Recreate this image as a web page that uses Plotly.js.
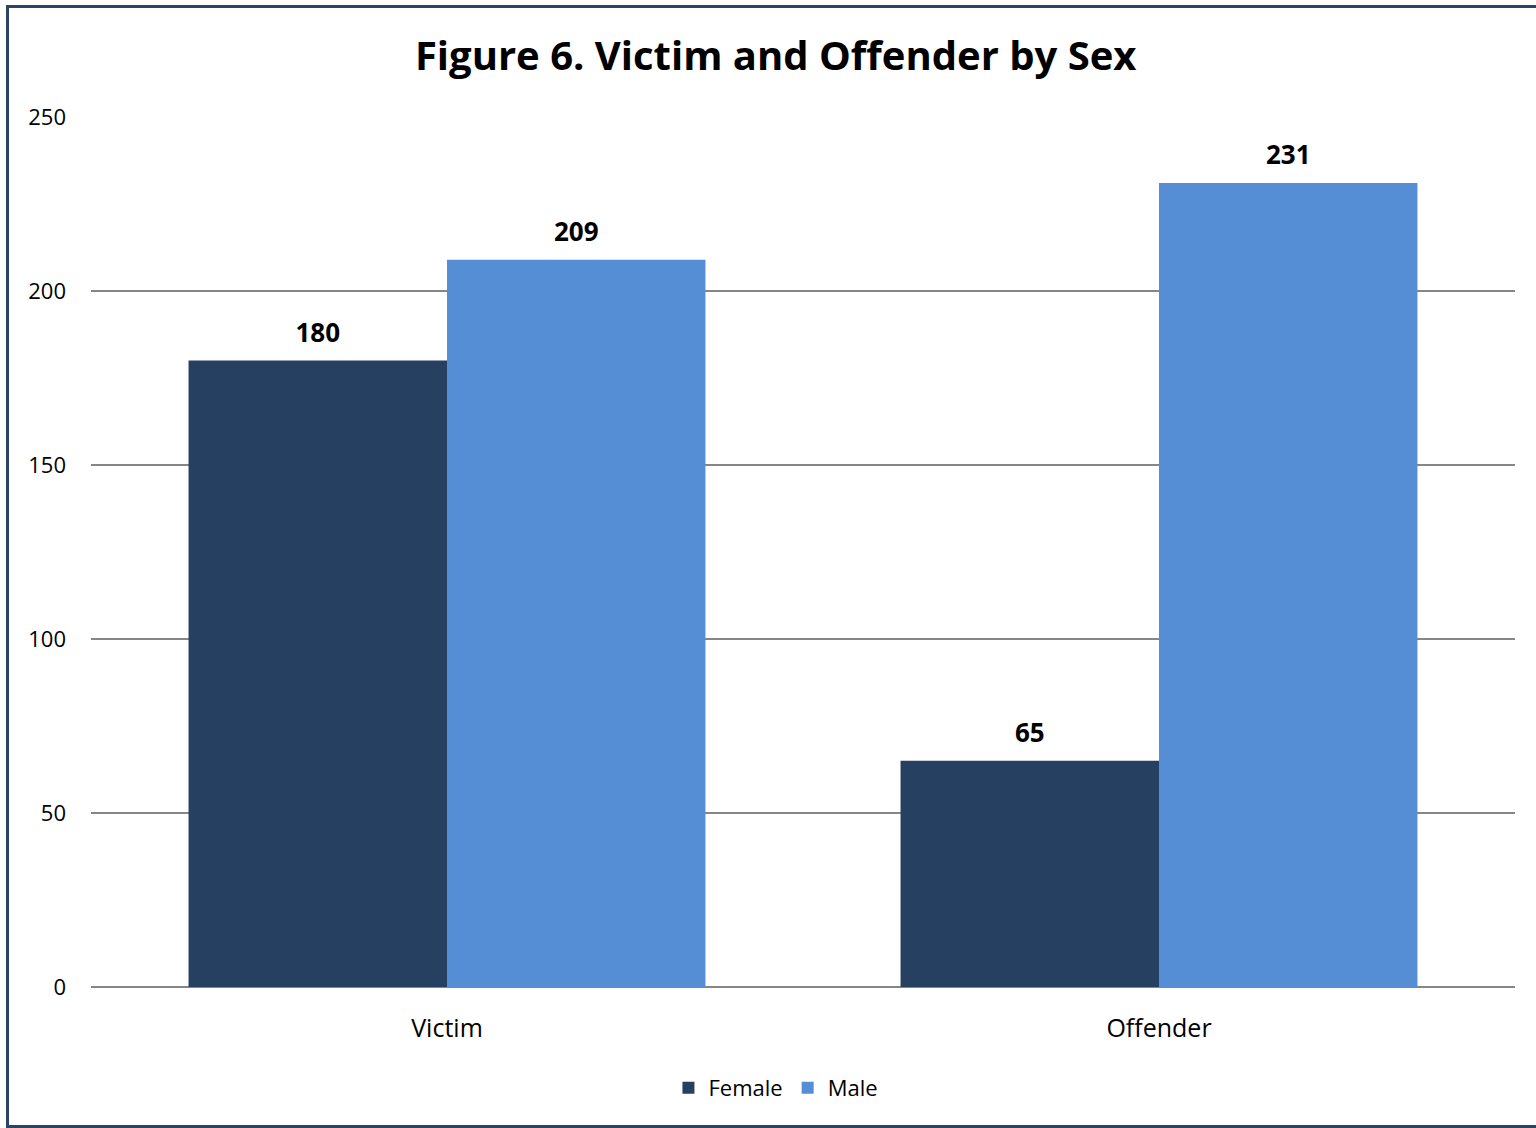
<!DOCTYPE html>
<html>
<head>
<meta charset="utf-8">
<script src="https://cdn.plot.ly/plotly-3.0.1.min.js"></script>
<style>
html,body{margin:0;padding:0;background:#fff;}
#wrap{position:relative;width:1536px;height:1128px;overflow:hidden;}
#chart{position:absolute;left:0;top:0;width:1536px;height:1128px;}
#frame{position:absolute;left:6px;top:5px;width:1600px;height:1117px;border:3px solid #2A4468;border-right:none;pointer-events:none;}
</style>
</head>
<body>
<div id="wrap"><div id="chart"></div><div id="frame"></div></div>
<script>
const categories = ["Victim", "Offender"];
const femaleValues = [180, 65];
const maleValues = [209, 231];
const yTicks = [0, 50, 100, 150, 200, 250];

const FONT = "Open Sans, Liberation Sans, sans-serif";
const labelTpl = '<span style="font-size:26px"><b>%{y}</b></span><br> ';

const traces = [
  {type:'bar', name:'Female', x:categories, y:femaleValues, marker:{color:'#264061'},
   text:femaleValues.map(String), texttemplate:labelTpl, textposition:'outside',
   textfont:{family:FONT, size:10, color:'#000'}, cliponaxis:false},
  {type:'bar', name:'Male', x:categories, y:maleValues, marker:{color:'#558ED5'},
   text:maleValues.map(String), texttemplate:labelTpl, textposition:'outside',
   textfont:{family:FONT, size:10, color:'#000'}, cliponaxis:false}
];

const layout = {
  width:1536, height:1128,
  paper_bgcolor:'rgba(0,0,0,0)', plot_bgcolor:'#fff',
  margin:{l:91, r:21, t:117, b:141},
  font:{family:FONT, color:'#000'},
  title:{text:'<b>Figure 6. Victim and Offender by Sex</b>', font:{family:FONT, size:40, color:'#000'},
         xref:'container', yref:'container', x:0.505, xanchor:'center', y:0.950, yanchor:'middle'},
  barmode:'group', bargap:0.274, bargroupgap:0,
  xaxis:{type:'category', showgrid:false, showline:false, zeroline:false, ticks:'',
         tickfont:{family:FONT, size:25, color:'#000'}, ticklabelstandoff:24},
  yaxis:{range:[0,250], tickvals:yTicks, showgrid:true, gridcolor:'#868686', gridwidth:2,
         zeroline:true, zerolinecolor:'#868686', zerolinewidth:2, showline:false, ticks:'',
         tickfont:{family:FONT, size:22, color:'#000'}, ticklabelstandoff:24},
  showlegend:true,
  legend:{orientation:'h', x:0.481, xanchor:'center', y:-0.116, yanchor:'middle',
          font:{family:FONT, size:22, color:'#000'}, itemwidth:30, traceorder:'normal'}
};

Plotly.newPlot('chart', traces, layout, {displayModeBar:false, staticPlot:true});
</script>
</body>
</html>
